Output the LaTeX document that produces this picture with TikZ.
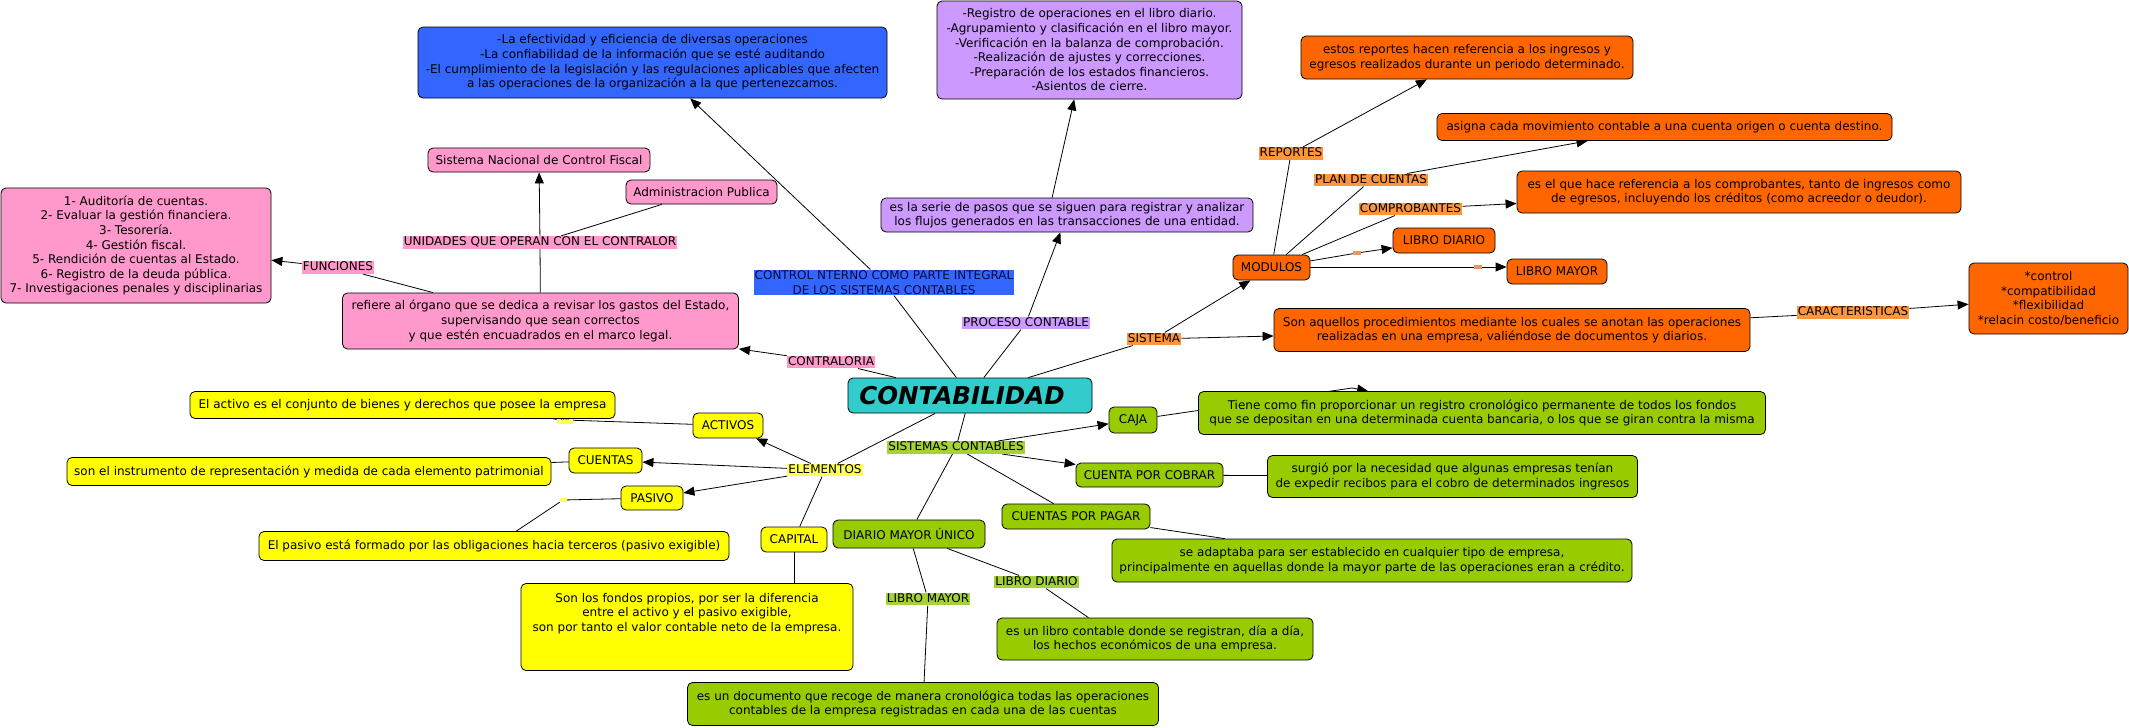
\documentclass[tikz,border=0pt]{standalone}
\usepackage{fontspec}
\setmainfont{DejaVu Sans}
\usetikzlibrary{arrows.meta,backgrounds,calc}
\definecolor{cblue}{RGB}{51,102,255}
\definecolor{cpurp}{RGB}{204,153,255}
\definecolor{corange}{RGB}{255,102,0}
\definecolor{cpink}{RGB}{255,153,204}
\definecolor{cyell}{RGB}{255,255,0}
\definecolor{cgreen}{RGB}{153,204,0}
\definecolor{cteal}{RGB}{51,204,204}
\definecolor{lorange}{RGB}{255,150,60}
\definecolor{lgreen}{RGB}{165,210,55}
\definecolor{lyell}{RGB}{255,255,90}
\definecolor{ldash}{RGB}{232,150,100}
\definecolor{cnavy}{RGB}{10,10,60}
\tikzset{
  txt/.style={font=\fontsize{12pt}{14.6pt}\selectfont},
  box/.style={txt, draw=black, line width=0.8pt, rounded corners=5pt, align=center, inner sep=0pt},
  bx/.style 2 args={box, minimum width=#1, minimum height=#2},
  lbl/.style={txt, inner xsep=1pt, inner ysep=0.5pt, text height=9.3pt, text depth=2.4pt},
  tiny/.style={inner sep=0pt, minimum width=8pt, minimum height=4pt},
  conn/.style={line width=0.8pt, draw=black},
  arr/.style={conn, -{Triangle[length=11pt,width=9pt]}},
}
\begin{document}
\begin{tikzpicture}[x=1pt,y=-1pt]
\useasboundingbox (0,0) rectangle (2129,728);
% ---------- concepts ----------
\node[bx={469pt}{71pt}, fill=cblue] (ctrlbox) at (652.5,62.5) {-La efectividad y eficiencia de diversas operaciones\\-La confiabilidad de la información que se esté auditando\\-El cumplimiento de la legislación y las regulaciones aplicables que afecten\\a las operaciones de la organización a la que pertenezcamos.};
\node[bx={305pt}{98pt}, fill=cpurp] (ptop) at (1089.5,50) {-Registro de operaciones en el libro diario.\\-Agrupamiento y clasificación en el libro mayor.\\-Verificación en la balanza de comprobación.\\-Realización de ajustes y correcciones.\\-Preparación de los estados financieros.\\-Asientos de cierre.};
\node[bx={372pt}{34pt}, fill=cpurp] (serie) at (1067,215) {es la serie de pasos que se siguen para registrar y analizar\\los flujos generados en las transacciones de una entidad.};
\node[bx={332pt}{43pt}, fill=corange] (rep) at (1467,57.5) {estos reportes hacen referencia a los ingresos y\\egresos realizados durante un periodo determinado.};
\node[bx={455pt}{27pt}, fill=corange] (asig) at (1664.5,127) {asigna cada movimiento contable a una cuenta origen o cuenta destino.};
\node[bx={444pt}{42pt}, fill=corange] (comp) at (1739,192) {es el que hace referencia a los comprobantes, tanto de ingresos como\\de egresos, incluyendo los créditos (como acreedor o deudor).};
\node[bx={102pt}{25pt}, fill=corange] (ldo) at (1444,240.5) {LIBRO DIARIO};
\node[bx={100pt}{25pt}, fill=corange] (lmo) at (1557,271.5) {LIBRO MAYOR};
\node[bx={77pt}{25pt}, fill=corange] (mod) at (1271.5,267.5) {MODULOS};
\node[bx={476pt}{43pt}, fill=corange] (sonaq) at (1512,330) {Son aquellos procedimientos mediante los cuales se anotan las operaciones\\realizadas en una empresa, valiéndose de documentos y diarios.};
\node[bx={159pt}{71pt}, fill=corange] (carac) at (2048.5,298.5) {*control\\*compatibilidad\\*flexibilidad\\*relacin costo/beneficio};
\node[box, minimum width=244pt, minimum height=35pt, fill=cteal, font=\fontsize{24.5pt}{28pt}\selectfont\bfseries\itshape] (cont) at (970,395.5) {CONTABILIDAD\hspace{16pt}};
\node[bx={48pt}{26pt}, fill=cgreen] (caja) at (1133,420) {CAJA};
\node[bx={567pt}{43pt}, fill=cgreen] (cajabox) at (1482,413) {Tiene como fin proporcionar un registro cronológico permanente de todos los fondos\\que se depositan en una determinada cuenta bancaria, o los que se giran contra la misma};
\node[bx={147pt}{24pt}, fill=cgreen] (cxc) at (1149.5,475) {CUENTA POR COBRAR};
\node[bx={370pt}{42pt}, fill=cgreen] (cxcbox) at (1452.5,476.5) {surgió por la necesidad que algunas empresas tenían\\de expedir recibos para el cobro de determinados ingresos};
\node[bx={148pt}{25pt}, fill=cgreen] (cxp) at (1076,516.5) {CUENTAS POR PAGAR};
\node[bx={520pt}{43pt}, fill=cgreen] (cxpbox) at (1372,560.5) {se adaptaba para ser establecido en cualquier tipo de empresa,\\principalmente en aquellas donde la mayor parte de las operaciones eran a crédito.};
\node[bx={152pt}{28pt}, fill=cgreen] (dmu) at (909,534) {DIARIO MAYOR ÚNICO};
\node[bx={316pt}{42pt}, fill=cgreen] (ldbox) at (1155,639) {es un libro contable donde se registran, día a día,\\los hechos económicos de una empresa.};
\node[bx={471pt}{43pt}, fill=cgreen] (lmbox) at (923,704) {es un documento que recoge de manera cronológica todas las operaciones\\contables de la empresa registradas en cada una de las cuentas};
\node[bx={332pt}{87pt}, fill=cyell] (capbox) at (687,627) {Son los fondos propios, por ser la diferencia\\entre el activo y el pasivo exigible,\\son por tanto el valor contable neto de la empresa.\\\mbox{}\\\mbox{}};
\node[bx={66pt}{25pt}, fill=cyell] (capital) at (794,539.5) {CAPITAL};
\node[bx={62pt}{24pt}, fill=cyell] (pasivo) at (652,498) {PASIVO};
\node[bx={73pt}{25pt}, fill=cyell] (cuentas) at (605.5,460.5) {CUENTAS};
\node[bx={70pt}{25pt}, fill=cyell] (activos) at (728,425.5) {ACTIVOS};
\node[tiny, fill=lyell, minimum width=16pt, minimum height=7pt, font=\fontsize{7pt}{7pt}\selectfont] (lact) at (565,420) {....};
\node[bx={425pt}{27pt}, fill=cyell] (actbox) at (402.5,405) {El activo es el conjunto de bienes y derechos que posee la empresa};
\node[bx={484pt}{28pt}, fill=cyell] (cuebox) at (309,471.5) {son el instrumento de representación y medida de cada elemento patrimonial};
\node[bx={470pt}{29pt}, fill=cyell] (pasbox) at (494,546) {El pasivo está formado por las obligaciones hacia terceros (pasivo exigible)};
\node[bx={270pt}{115pt}, fill=cpink] (funbox) at (136,245.5) {1- Auditoría de cuentas.\\2- Evaluar la gestión financiera.\\3- Tesorería.\\4- Gestión fiscal.\\5- Rendición de cuentas al Estado.\\6- Registro de la deuda pública.\\7- Investigaciones penales y disciplinarias};
\node[bx={396pt}{56pt}, fill=cpink] (refbox) at (540.5,321) {refiere al órgano que se dedica a revisar los gastos del Estado,\\supervisando que sean correctos\\y que estén encuadrados en el marco legal.};
\node[bx={222pt}{24pt}, fill=cpink] (snbox) at (539,160) {Sistema Nacional de Control Fiscal};
\node[bx={151pt}{24pt}, fill=cpink] (admbox) at (701.5,192) {Administracion Publica};
% ---------- linking phrases ----------
\node[txt, fill=cblue, text=cnavy, align=center, inner xsep=1pt, inner ysep=1pt] (lctrl) at (884,282.5) {CONTROL NTERNO COMO PARTE INTEGRAL\\DE LOS SISTEMAS CONTABLES};
\node[lbl, fill=cpurp] (lproc) at (1026,323) {PROCESO CONTABLE};
\node[lbl, fill=lorange] (lsis) at (1154,339) {SISTEMA};
\node[lbl, fill=cpink] (lcontra) at (831,362) {CONTRALORIA};
\node[lbl, fill=lgreen] (lsc) at (956,447.5) {SISTEMAS CONTABLES};
\node[lbl, fill=lyell] (lelem) at (825,470) {ELEMENTOS};
\node[lbl, fill=cpink] (lfun) at (338,267.5) {FUNCIONES};
\node[lbl, fill=cpink] (luni) at (540,242.5) {UNIDADES QUE OPERAN CON EL CONTRALOR};
\node[lbl, fill=lorange] (lrep) at (1291,153.5) {REPORTES};
\node[lbl, fill=lorange] (lplan) at (1371,180) {PLAN DE CUENTAS};
\node[lbl, fill=lorange] (lcomp) at (1410.5,209) {COMPROBANTES};
\node[lbl, fill=lorange] (lcar) at (1853,312.5) {CARACTERISTICAS};
\node[lbl, fill=lgreen] (lld) at (1036.5,582) {LIBRO DIARIO};
\node[lbl, fill=lgreen] (llm) at (928,599) {LIBRO MAYOR\ };
\node[tiny, fill=ldash] (ldash1) at (1357,253) {};
\node[tiny, fill=ldash] (ldash2) at (1478,267) {};
\node[tiny, fill=lyell, minimum width=7pt, minimum height=4pt] (lpas) at (563,500) {};
\coordinate (cajalbl) at (1352,388);
% ---------- connectors ----------
\begin{pgfonlayer}{background}
\fill[white] (0,0) rectangle (2129,728);
\draw[conn] (cont) -- (lctrl);
\draw[arr] (lctrl) -- (ctrlbox);
\draw[conn] (cont) -- (lproc);
\draw[arr] (lproc) -- (serie);
\draw[arr] ($(serie.north west)!0.46!(serie.north east)$) -- ($(ptop.south west)!0.45!(ptop.south east)$);
\draw[conn] (cont) -- (lsis);
\draw[arr] (lsis) -- (mod);
\draw[arr] (lsis) -- (sonaq);
\draw[conn] (mod) -- (lrep);
\draw[arr] (lrep) -- (rep);
\draw[conn] (mod) -- (lplan);
\draw[arr] (lplan) -- (asig);
\draw[conn] (mod) -- (lcomp);
\draw[arr] (lcomp) -- (comp);
\draw[conn] (mod) -- (ldash1);
\draw[arr] (ldash1) -- (ldo);
\draw[conn] (mod.east |- ldash2) -- (ldash2);
\draw[arr] (ldash2) -- (ldash2 -| lmo.west);
\draw[conn] (sonaq) -- (lcar);
\draw[arr] (lcar) -- (carac);
\draw[conn] (cont) -- (lcontra);
\draw[arr] (lcontra) -- (refbox);
\draw[conn] (refbox) -- (luni);
\draw[arr] (luni) -- (snbox);
\draw[conn] (admbox) -- (luni);
\draw[conn] (refbox) -- (lfun);
\draw[arr] (lfun) -- (funbox);
\draw[conn] (cont) -- (lelem);
\draw[arr] (lelem) -- (activos);
\draw[arr] (lelem) -- (cuentas);
\draw[arr] (lelem) -- (pasivo);
\draw[conn] (lelem) -- (capital);
\draw[conn] (activos) -- (lact);
\draw[conn] (lact) -- (actbox);
\draw[conn] (cuentas) -- (cuebox);
\draw[conn] (pasivo) -- (lpas);
\draw[conn] (lpas) -- (pasbox);
\draw[conn] (capital) -- (capital |- capbox.north);
\draw[conn] (cont) -- (lsc);
\draw[arr] (lsc) -- (caja);
\draw[arr] (lsc) -- (cxc);
\draw[conn] (lsc) -- (cxp);
\draw[conn] (lsc) -- (dmu);
\draw[conn] (caja) -- (cajalbl);
\draw[arr] (cajalbl) -- (cajabox);
\draw[conn] (cxc) -- (cxcbox);
\draw[conn] (cxp) -- (cxpbox);
\draw[conn] (dmu) -- (lld);
\draw[conn] (lld) -- ($(ldbox.north west)!0.29!(ldbox.north east)$);
\draw[conn] (dmu) -- (llm);
\draw[conn] (llm) -- (lmbox);
\end{pgfonlayer}
\end{tikzpicture}
\end{document}
